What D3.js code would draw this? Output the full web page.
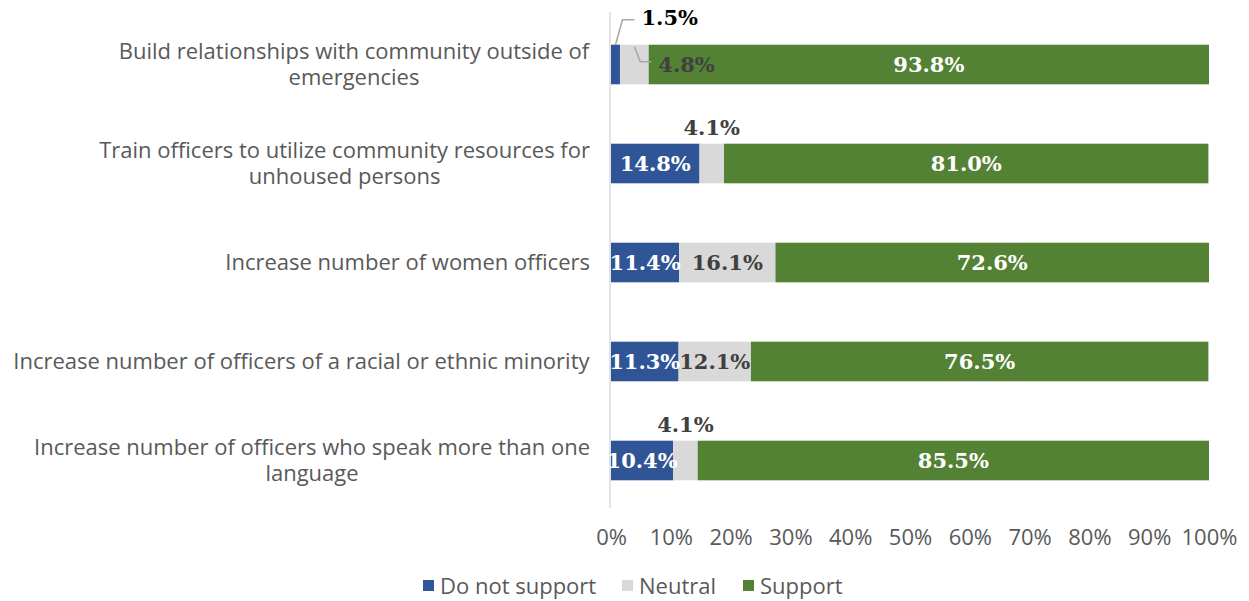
<!DOCTYPE html>
<html><head><meta charset="utf-8">
<script src="https://cdn.jsdelivr.net/npm/d3@7"></script>
<style>body{margin:0;background:#fff}svg{display:block}</style>
</head><body>
<svg id="c" width="1249" height="601"></svg>
<script>
const categories = [
  "Build relationships with community outside of\nemergencies",
  "Train officers to utilize community resources for\nunhoused persons",
  "Increase number of women officers",
  "Increase number of officers of a racial or ethnic minority",
  "Increase number of officers who speak more than one\nlanguage"
];
const seriesNames = ["Do not support", "Neutral", "Support"];
const doNotSupport = [1.5, 14.8, 11.4, 11.3, 10.4];
const neutral = [4.8, 4.1, 16.1, 12.1, 4.1];
const support = [93.8, 81.0, 72.6, 76.5, 85.5];
const tickValues = [0,10,20,30,40,50,60,70,80,90,100];
const colors = ["#2F5597", "#D9D9D9", "#548235"];
const labelColors = ["#FFFFFF", "#404040", "#FFFFFF"];

(function(){
const svg = d3.select("#c");
const mL = 611, mR = 1209, mT = 15, mB = 510;
const x = d3.scaleLinear().domain([0,100]).range([mL,mR]);
const y = d3.scaleBand().domain(d3.range(categories.length)).range([mT,mB]).paddingInner(0.6).paddingOuter(0.3);

const rows = categories.map((c,i)=>({i, vals:[doNotSupport[i], neutral[i], support[i]]}));
const valueFont = "'DejaVu Serif', serif";
const textFont = "'Open Sans', Lato, sans-serif";
const textSize = 22;

svg.append("line").attr("x1",mL-1).attr("x2",mL-1).attr("y1",12).attr("y2",508)
  .attr("stroke","#D9D9D9").attr("stroke-width",1.5);

rows.forEach(r=>{
  let cum = 0;
  const g = svg.append("g");
  r.vals.forEach((v,k)=>{
    const x0 = x(cum), x1 = x(Math.min(cum+v,100));
    g.append("rect").attr("x",x0).attr("y",y(r.i)).attr("width",x1-x0).attr("height",y.bandwidth()).attr("fill",colors[k]);
    r["s"+k] = [x0,x1];
    cum += v;
  });
});

const cy = i => y(i)+y.bandwidth()/2;
function lab(txt, xx, yy, col, anchor){
  svg.append("text").attr("x",xx).attr("y",yy).attr("dy","0.36em").attr("text-anchor",anchor||"middle")
    .attr("font-family",valueFont).attr("font-weight","bold").attr("font-size",21).attr("fill",col).text(txt);
}
const fmt = v => v.toFixed(1)+"%";
rows.forEach(r=>{
  const [b0,b1]=r.s0,[n0,n1]=r.s1,[g0,g1]=r.s2;
  const i=r.i;
  if (b1-b0 > 30) lab(fmt(r.vals[0]), (b0+b1)/2, cy(i), labelColors[0]);
  if (n1-n0 > 30) lab(fmt(r.vals[1]), (n0+n1)/2, cy(i), labelColors[1]);
  lab(fmt(r.vals[2]), (g0+g1)/2, cy(i), labelColors[2]);
});
{
  const r = rows[0], i=0;
  const bt = y(i);
  const bm = (r.s0[0]+r.s0[1])/2;
  svg.append("polyline").attr("points",`${bm},${bt} ${bm+7},${bt-25} ${bm+19},${bt-25}`)
    .attr("fill","none").attr("stroke","#A6A6A6").attr("stroke-width",1.5);
  lab(fmt(r.vals[0]), bm+26, bt-27, "#000000", "start");
  const nm = (r.s1[0]+r.s1[1])/2;
  svg.append("polyline").attr("points",`${nm},${bt+2} ${nm+6},${bt+17} ${nm+17},${bt+17}`)
    .attr("fill","none").attr("stroke","#A6A6A6").attr("stroke-width",1.5);
  lab(fmt(r.vals[1]), nm+24, cy(i), "#404040", "start");
}
[1,4].forEach(i=>{
  const r=rows[i];
  const nm=(r.s1[0]+r.s1[1])/2;
  lab(fmt(r.vals[1]), nm, y(i)-16, "#404040");
});

categories.forEach((c,i)=>{
  const lines = c.split("\n");
  const t = svg.append("text").attr("text-anchor","middle").attr("font-family",textFont)
    .attr("font-size",textSize).attr("fill","#595959");
  const lh = 26;
  lines.forEach((ln,j)=>{
    t.append("tspan").attr("x",0).attr("y",cy(i)+(j-(lines.length-1)/2)*lh).attr("dy","0.35em").text(ln);
  });
  const w = t.node().getBBox().width;
  t.attr("transform",`translate(${590-w/2},0)`);
});

const ax = svg.append("g").attr("transform",`translate(0,${537})`)
  .call(d3.axisBottom(x).tickValues(tickValues).tickFormat(d=>d+"%").tickSize(0).tickPadding(0));
ax.select(".domain").remove();
ax.selectAll("text").attr("font-family",textFont).attr("font-size",textSize).attr("fill","#595959").attr("dy","0.35em");

const legX = [423, 622, 743];
seriesNames.forEach((s,k)=>{
  svg.append("rect").attr("x",legX[k]).attr("y",580).attr("width",11).attr("height",11).attr("fill",colors[k]);
  svg.append("text").attr("x",legX[k]+17).attr("y",586).attr("dy","0.35em").attr("font-family",textFont)
    .attr("font-size",textSize).attr("fill","#595959").text(s);
});
})();
</script>
</body></html>
